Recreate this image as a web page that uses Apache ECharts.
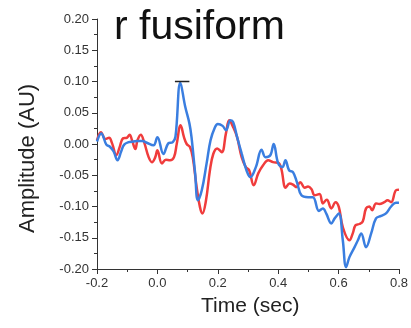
<!DOCTYPE html>
<html>
<head>
<meta charset="utf-8">
<script src="https://cdn.jsdelivr.net/npm/echarts@6/dist/echarts.min.js"></script>
<style>
  html, body { margin: 0; padding: 0; background: #fff; }
  #chart { width: 411px; height: 328px; }
</style>
</head>
<body>
<div id="chart"></div>
<script>
// Right fusiform source waveforms: [time (s), amplitude (AU)]
const blueTrace = [
  [-0.2, 0.004], [-0.186, 0.017], [-0.169, -0.001], [-0.158, -0.004], [-0.145, -0.012],
  [-0.132, -0.026], [-0.12, -0.012], [-0.11, -0.001], [-0.095, 0.003], [-0.08, 0.004],
  [-0.065, 0.005], [-0.05, 0.005], [-0.035, 0.002], [-0.013, -0.002], [0.0, 0.011],
  [0.02, -0.016], [0.036, 0.001], [0.051, 0.003], [0.06, 0.012], [0.076, 0.098],
  [0.092, 0.06], [0.106, 0.033], [0.113, 0.011], [0.125, -0.047], [0.134, -0.09],
  [0.147, -0.074], [0.163, -0.031], [0.176, 0.006], [0.19, 0.026], [0.2, 0.032],
  [0.216, 0.029], [0.227, 0.022], [0.242, 0.038], [0.251, 0.035], [0.264, 0.011],
  [0.279, -0.015], [0.295, -0.042], [0.308, -0.053], [0.326, -0.037], [0.345, -0.009],
  [0.358, -0.021], [0.374, -0.018], [0.385, 0.0], [0.4, -0.031], [0.414, -0.037],
  [0.424, -0.026], [0.436, -0.042], [0.449, -0.045], [0.462, -0.061], [0.477, -0.082],
  [0.499, -0.085], [0.515, -0.085], [0.535, -0.107], [0.548, -0.103], [0.559, -0.111],
  [0.576, -0.127], [0.587, -0.119], [0.601, -0.111], [0.614, -0.154], [0.625, -0.197],
  [0.636, -0.181], [0.653, -0.165], [0.664, -0.154], [0.675, -0.143], [0.691, -0.165],
  [0.708, -0.143], [0.724, -0.119], [0.741, -0.115], [0.757, -0.111], [0.774, -0.1],
  [0.79, -0.094], [0.8, -0.094]
];
const redTrace = [
  [-0.2, 0.006], [-0.187, 0.019], [-0.172, 0.008], [-0.16, 0.010], [-0.15, 0.001],
  [-0.136, -0.018], [-0.125, -0.005], [-0.114, 0.009], [-0.101, 0.010], [-0.092, 0.015],
  [-0.084, 0.006], [-0.073, -0.008], [-0.066, 0.006], [-0.055, 0.015], [-0.044, 0.003],
  [-0.029, -0.021], [-0.018, -0.029], [-0.007, -0.021], [0.0, -0.010], [0.015, -0.031],
  [0.028, -0.025], [0.042, -0.026], [0.055, -0.021], [0.064, 0.0], [0.077, 0.030],
  [0.088, 0.011], [0.097, 0.0], [0.108, -0.005], [0.117, -0.021], [0.13, -0.069],
  [0.141, -0.101], [0.149, -0.111], [0.161, -0.090], [0.174, -0.042], [0.185, -0.016],
  [0.198, -0.007], [0.213, -0.013], [0.227, 0.017], [0.238, 0.038], [0.251, 0.027],
  [0.264, 0.011], [0.279, -0.021], [0.293, -0.037], [0.304, -0.042], [0.319, -0.066],
  [0.334, -0.047], [0.35, -0.034], [0.367, -0.026], [0.383, -0.029], [0.4, -0.030],
  [0.41, -0.039], [0.425, -0.070], [0.438, -0.063], [0.449, -0.065], [0.46, -0.069],
  [0.473, -0.061], [0.488, -0.070], [0.499, -0.068], [0.51, -0.072], [0.521, -0.082],
  [0.537, -0.080], [0.548, -0.095], [0.561, -0.089], [0.576, -0.103], [0.59, -0.093],
  [0.601, -0.101], [0.614, -0.133], [0.636, -0.154], [0.647, -0.143], [0.656, -0.130],
  [0.669, -0.128], [0.68, -0.124], [0.691, -0.103], [0.702, -0.100], [0.711, -0.106],
  [0.724, -0.095], [0.735, -0.096], [0.752, -0.093], [0.762, -0.090], [0.774, -0.093],
  [0.79, -0.074], [0.8, -0.073]
];
// Horizontal bar over the early peak
const peakBarTimes = [0.058, 0.106];
const peakBarLevel = 0.1;

const xTicks = { min: -0.2, max: 0.8, step: 0.2 };
const yTicks = { min: -0.2, max: 0.2, step: 0.05 };

const chart = echarts.init(document.getElementById('chart'), null, { renderer: 'canvas' });

const axisColor = '#333';
const fontFamily = 'Liberation Sans, Arial, sans-serif';
const labelFont = { color: '#333', fontSize: 13, fontFamily: fontFamily };

chart.setOption({
  animation: false,
  backgroundColor: '#fff',
  grid: { left: 97, right: 11, top: 19, bottom: 59, containLabel: false },
  xAxis: {
    type: 'value',
    min: xTicks.min, max: xTicks.max, interval: xTicks.step,
    axisLine: { onZero: false, lineStyle: { color: axisColor, width: 1 } },
    axisTick: { show: true, inside: false, length: 5, lineStyle: { color: axisColor } },
    minorTick: { show: true, splitNumber: 2, length: 3, lineStyle: { color: axisColor } },
    splitLine: { show: false },
    axisLabel: Object.assign({ margin: 8, formatter: v => v.toFixed(1) }, labelFont)
  },
  yAxis: {
    type: 'value',
    min: yTicks.min, max: yTicks.max, interval: yTicks.step,
    axisLine: { show: true, onZero: false, lineStyle: { color: axisColor, width: 1 } },
    axisTick: { show: true, inside: false, length: 5, lineStyle: { color: axisColor } },
    minorTick: { show: true, splitNumber: 2, length: 3, lineStyle: { color: axisColor } },
    splitLine: { show: false },
    axisLabel: Object.assign({ margin: 8, formatter: v => v.toFixed(2) }, labelFont)
  },
  series: [
    {
      name: 'red',
      type: 'line',
      data: redTrace,
      smooth: 0.4,
      showSymbol: false,
      lineStyle: { color: '#f03c3c', width: 2.5 },
      z: 2
    },
    {
      name: 'blue',
      type: 'line',
      data: blueTrace,
      smooth: 0.4,
      showSymbol: false,
      lineStyle: { color: '#3a7ee0', width: 2.5 },
      z: 3
    },
    {
      name: 'peak bar',
      type: 'line',
      data: peakBarTimes.map(t => [t, peakBarLevel]),
      showSymbol: false,
      lineStyle: { color: '#222', width: 1.5 },
      z: 4
    }
  ],
  graphic: [
    {
      type: 'text', left: 114, top: 7,
      style: { text: 'r fusiform', fontSize: 41, fill: '#111', fontFamily: fontFamily }
    },
    {
      type: 'text', left: 201, top: 296,
      style: { text: 'Time (sec)', fontSize: 21, fill: '#222', fontFamily: fontFamily }
    },
    {
      type: 'text', x: 17, y: 233, rotation: Math.PI / 2,
      style: { text: 'Amplitude (AU)', fontSize: 22, fill: '#222', fontFamily: fontFamily }
    }
  ]
});
</script>
</body>
</html>
